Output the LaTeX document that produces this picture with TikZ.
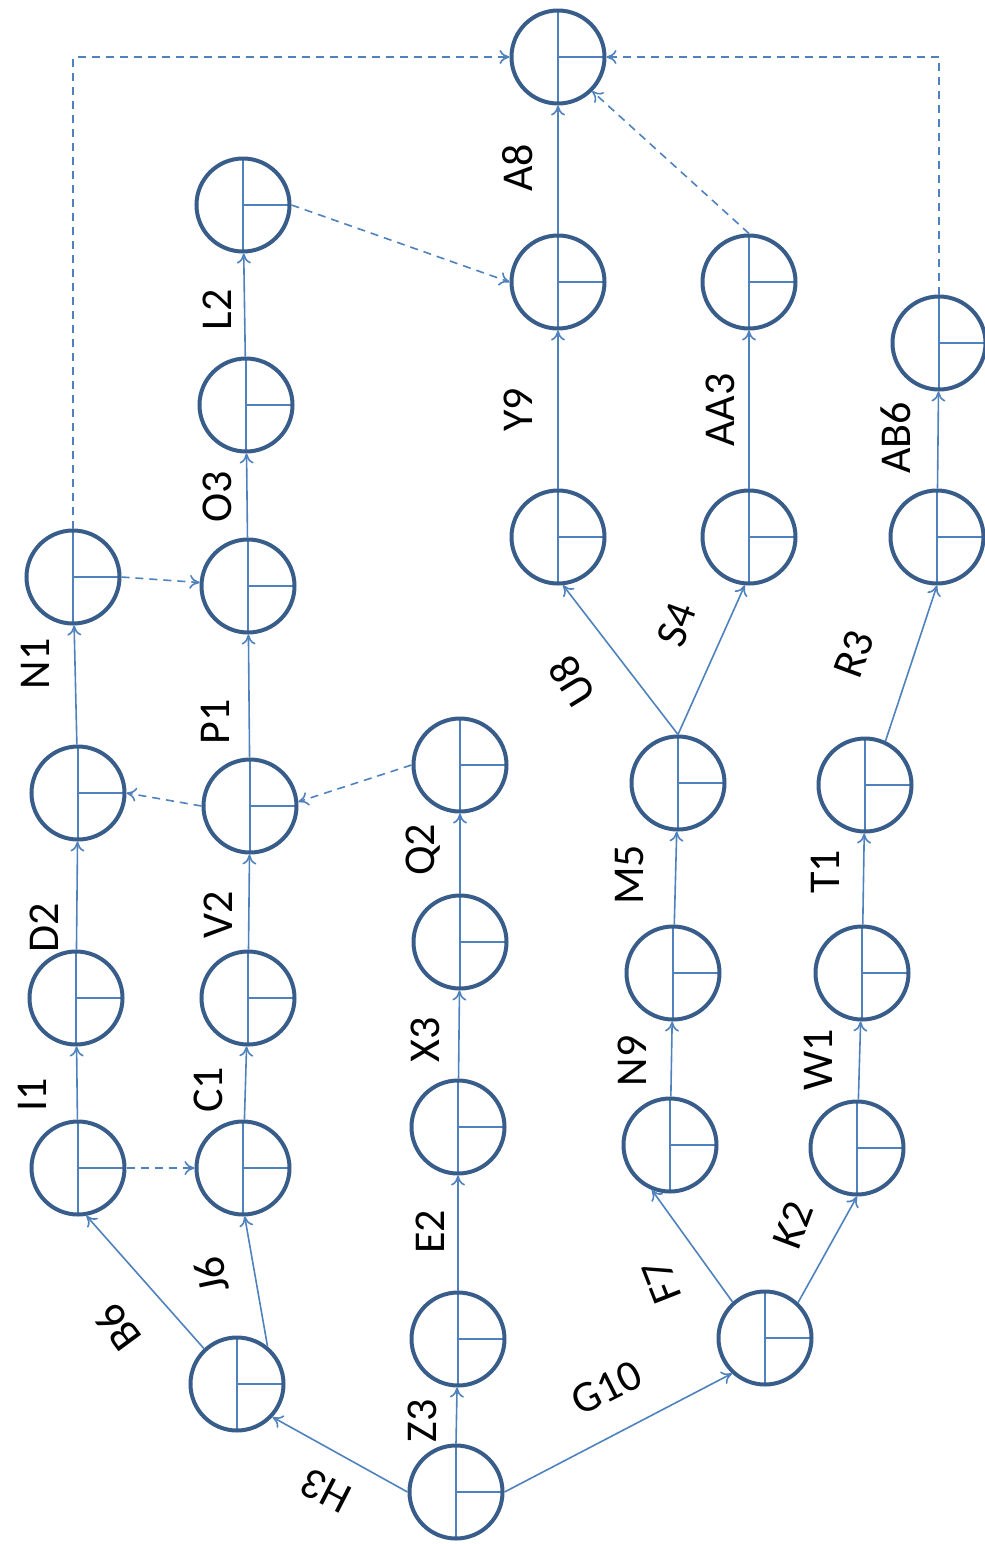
\documentclass[tikz,border=0pt]{standalone}
\usepackage{fontspec}
\setmainfont{Carlito}
\usetikzlibrary{arrows.meta}
\definecolor{circ}{RGB}{56,93,138}
\definecolor{edg}{RGB}{79,129,189}
\begin{document}
\begin{tikzpicture}[x=0.5pt,y=-0.5pt,
  ev/.style={circle, draw=circ, line width=2pt, minimum size=46.5pt, inner sep=0pt,
    path picture={\draw[edg, line width=0.9pt] (path picture bounding box.north) -- (path picture bounding box.south) (path picture bounding box.center) -- (path picture bounding box.east);}},
  act/.style={draw=edg, line width=0.8pt, -{Computer Modern Rightarrow[length=5pt,width=7pt]}},
  dum/.style={act, dash pattern=on 4pt off 3pt},
  lbl/.style={font=\fontsize{22}{26}\selectfont, inner sep=0pt, text=black}]
\useasboundingbox (0,0) rectangle (985,1544);
% events
\node[ev] (n1) at (456,1492) {};
\node[ev] (n2) at (237,1384) {};
\node[ev] (n3) at (458,1339) {};
\node[ev] (n4) at (765,1338) {};
\node[ev] (n5) at (78,1168) {};
\node[ev] (n6) at (243,1168) {};
\node[ev] (n7) at (458,1127) {};
\node[ev] (n8) at (670,1145) {};
\node[ev] (n9) at (857,1148) {};
\node[ev] (n10) at (76,998) {};
\node[ev] (n11) at (248,998) {};
\node[ev] (n12) at (460,942) {};
\node[ev] (n13) at (673,973) {};
\node[ev] (n14) at (862,973) {};
\node[ev] (n15) at (78,793) {};
\node[ev] (n16) at (250,806) {};
\node[ev] (n17) at (460,765) {};
\node[ev] (n18) at (678,783) {};
\node[ev] (n19) at (865,785) {};
\node[ev] (n20) at (73,577) {};
\node[ev] (n21) at (248,586) {};
\node[ev] (n22) at (558,537) {};
\node[ev] (n23) at (749,537) {};
\node[ev] (n24) at (937,537) {};
\node[ev] (n25) at (246,405) {};
\node[ev] (n26) at (243,205) {};
\node[ev] (n27) at (558,282) {};
\node[ev] (n28) at (749,282) {};
\node[ev] (n29) at (939,343) {};
\node[ev] (n30) at (558,57) {};
% activities
\draw[act] (n1.north) -- (n3);
\draw[act] (n1.west) -- (n2.-43);
\draw[act] (n1.east) -- (n4.227);
\draw[act] (n2.133) -- (n5.-80);
\draw[act] (n2.51) -- (n6.-88);
\draw[act] (n3) -- (n7);
\draw[act] (n4.132) -- (n8.-112);
\draw[act] (n4.47) -- (n9.south);
\draw[act] (n5) -- (n10);
\draw[act] (n6) -- (n11);
\draw[act] (n7) -- (n12);
\draw[act] (n8) -- (n13);
\draw[act] (n9) -- (n14);
\draw[act] (n10) -- (n15);
\draw[act] (n11) -- (n16);
\draw[act] (n12) -- (n17);
\draw[act] (n13) -- (n18);
\draw[act] (n14) -- (n19);
\draw[act] (n15) -- (n20);
\draw[act] (n16) -- (n21);
\draw[act] (n18.north) -- (n22.-84);
\draw[act] (n18.north) -- (n23.-95);
\draw[act] (n19.65) -- (n24.south);
\draw[act] (n21) -- (n25);
\draw[act] (n25) -- (n26);
\draw[act] (n22) -- (n27);
\draw[act] (n23) -- (n28);
\draw[act] (n24) -- (n29);
\draw[act] (n27) -- (n30);
% dummies
\draw[dum] (n5.east) -- (n6.west);
\draw[dum] (n17.west) -- (n16.5);
\draw[dum] (n16.west) -- (n15.east);
\draw[dum] (n20.east) -- (n21);
\draw[dum] (n26.east) -- (n27.west);
\draw[dum] (n28.north) -- (n30.-45);
\draw[dum] (n20.north) |- (n30.west);
\draw[dum] (n29.north) |- (n30.east);
% labels
\node[lbl, rotate=90] (lZ3) at (422,1421) {Z3};
\node[lbl, rotate=152.7] (lH3) at (326,1491) {H3};
\node[lbl, rotate=26.6] (lG10) at (607,1388) {G10};
\node[lbl, rotate=126.4] (lB6) at (118,1328) {B6};
\node[lbl, rotate=102] (lJ6) at (211,1275) {J6};
\node[lbl, rotate=90] (lI1) at (32,1095) {I1};
\node[lbl, rotate=90] (lC1) at (208,1090) {C1};
\node[lbl, rotate=90] (lE2) at (430,1232) {E2};
\node[lbl, rotate=111.5] (lF7) at (662,1282) {F7};
\node[lbl, rotate=69.4] (lK2) at (793,1225) {K2};
\node[lbl, rotate=90] (lD2) at (44,928) {D2};
\node[lbl, rotate=90] (lV2) at (218,915) {V2};
\node[lbl, rotate=90] (lX3) at (425,1040) {X3};
\node[lbl, rotate=90] (lN9) at (632,1061) {N9};
\node[lbl, rotate=90] (lW1) at (818,1060) {W1};
\node[lbl, rotate=90] (lQ2) at (423,850) {Q2};
\node[lbl, rotate=90] (lM5) at (630,875) {M5};
\node[lbl, rotate=90] (lT1) at (825,872) {T1};
\node[lbl, rotate=90] (lN1) at (35,664) {N1};
\node[lbl, rotate=90] (lP1) at (215,722) {P1};
\node[lbl, rotate=121.5] (lU8) at (572,682) {U8};
\node[lbl, rotate=69.8] (lS4) at (677,625) {S4};
\node[lbl, rotate=69.8] (lR3) at (854,654) {R3};
\node[lbl, rotate=90] (lO3) at (217,497) {O3};
\node[lbl, rotate=90] (lY9) at (518,410) {Y9};
\node[lbl, rotate=90] (lAA3) at (720,410) {AA3};
\node[lbl, rotate=90] (lAB6) at (896,438) {AB6};
\node[lbl, rotate=90] (lL2) at (217,310) {L2};
\node[lbl, rotate=90] (lA8) at (518,168) {A8};
\end{tikzpicture}
\end{document}
